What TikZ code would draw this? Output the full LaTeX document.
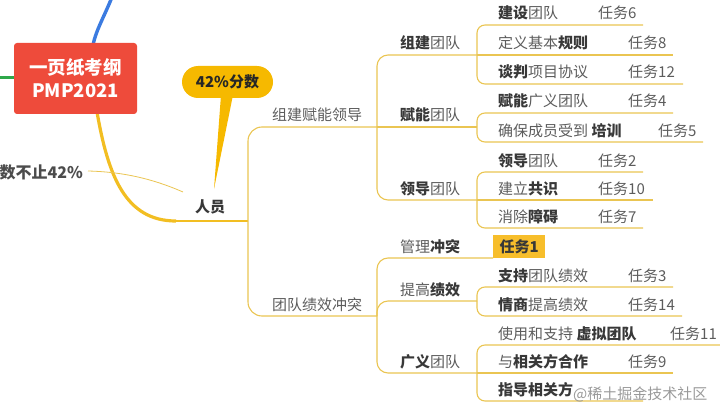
\documentclass[tikz,border=0pt]{standalone}
\usepackage{fontspec}
\setmainfont{Noto Sans CJK SC}
\definecolor{lineY}{HTML}{EAC552}
\definecolor{thickY}{HTML}{F2BE22}
\definecolor{pillY}{HTML}{F6B900}
\definecolor{boxY}{HTML}{F7BE2B}
\definecolor{redB}{HTML}{EE4B3B}
\definecolor{blueL}{HTML}{3B7BE0}
\definecolor{greenL}{HTML}{2EA84A}
\definecolor{txtR}{HTML}{5C5C5C}
\definecolor{txtB}{HTML}{383838}
\newcommand\mmb[1]{{\bfseries\color{txtB}#1}}
\begin{document}
\begin{tikzpicture}[x=1pt,y=-1pt,
  ln/.style={draw=lineY,line width=1.1pt},
  brA/.style={ln,rounded corners=14pt},
  brB/.style={ln,rounded corners=11pt},
  brC/.style={ln,rounded corners=8pt},
  t/.style={inner sep=0pt,anchor=base west,font=\fontsize{15}{17}\selectfont,text=txtR},
]
\useasboundingbox (0,0) rectangle (720,417);

% left decorations
\draw[blueL,line width=3.4pt] (112,-3) .. controls (105,15) and (96,30) .. (93,45);
\draw[greenL,line width=3pt] (-3,78) -- (16,78);
\draw[thickY,line width=3.2pt] (97,112) .. controls (108,175) and (125,221) .. (176,221);
\draw[ln,line width=1.6pt,draw=thickY] (174,221) -- (248,221);

% central box
\node[fill=redB,rounded corners=3pt,minimum width=123pt,minimum height=71pt,inner sep=0pt,
  text=white,font=\bfseries\fontsize{18.5}{23}\selectfont,align=center] (root) at (75.5,78.5)
  {一页纸考纲\\PMP2021};

% 人员 and side notes
\node[inner sep=1pt,font=\bfseries\fontsize{15}{17}\selectfont,text=txtB] (ry) at (210,207) {人员};
\node[inner sep=0pt,anchor=east,font=\bfseries\fontsize{16}{18}\selectfont,text=txtB!90] (note) at (83,172) {数不止42\%};
\draw[ln,line width=0.8pt] (note.east) ++(5,-1) coordinate (ne) .. controls (130,172) and (160,182) .. (183,192) coordinate (nr);

% callout
\fill[pillY] (221,95) -- (233,95) -- (214,189) -- cycle;
\node[fill=pillY,rounded corners=16pt,minimum width=91pt,minimum height=32pt,inner sep=0pt,
  font=\bfseries\fontsize{15}{17}\selectfont,text=black!85] (pill) at (227.5,82) {42\%分数};

% trunk
\coordinate (J0) at (248,221);
\coordinate (J1) at (377,127);
\coordinate (J2) at (377,316);
\draw[brA] (J0) |- (J1);
\draw[brA] (J0) |- (J2);
\node[t] (l1a) at (272,121) {组建赋能领导};
\node[t] (l1b) at (272,310) {团队绩效冲突};

% second level (upper)
\coordinate (A) at (477,55);
\coordinate (B) at (477,127);
\coordinate (C) at (477,200);
\draw[brB] (J1) |- (A);
\draw[ln] (J1) -- (B);
\draw[brB] (J1) |- (C);
\node[t] (l2a) at (400,49) {\mmb{组建}团队};
\node[t] (l2b) at (400,121) {\mmb{赋能}团队};
\node[t] (l2c) at (400,194) {\mmb{领导}团队};

% second level (lower)
\coordinate (D) at (493,258);
\coordinate (E) at (477,301);
\coordinate (F) at (477,373);
\draw[brB] (J2) |- (D);
\draw[brB] (J2) |- (E);
\draw[brB] (J2) |- (F);
\node[t] (l2d) at (400,252) {管理\mmb{冲突}};
\node[t] (l2e) at (400,295) {提高\mmb{绩效}};
\node[t] (l2f) at (400,367) {\mmb{广义}团队};
\node[fill=boxY,minimum width=52pt,minimum height=23pt,inner sep=0pt,anchor=south west,
  font=\bfseries\fontsize{15}{17}\selectfont,text=txtB] (task1) at (D) {任务1};

% group A
\draw[brC] (A) |- (643,25);
\draw[ln] (A) -- (673,55);
\draw[brC] (A) |- (683,84);
\node[t] (i1) at (498,19) {\mmb{建设}团队};  \node[t] (k1) at (598,19) {任务6};
\node[t] (i2) at (498,49) {定义基本\mmb{规则}};  \node[t] (k2) at (628,49) {任务8};
\node[t] (i3) at (498,78) {\mmb{谈判}项目协议};  \node[t] (k3) at (628,78) {任务12};

% group B
\draw[brC] (B) |- (673,113);
\draw[brC] (B) |- (703,142);
\node[t] (i4) at (498,107) {\mmb{赋能}广义团队};  \node[t] (k4) at (628,107) {任务4};
\node[t] (i5) at (498,136) {确保成员受到 \mmb{培训}};  \node[t] (k5) at (658,136) {任务5};

% group C
\draw[brC] (C) |- (643,172);
\draw[ln] (C) -- (653,200);
\draw[brC] (C) |- (643,228);
\node[t] (i6) at (498,166) {\mmb{领导}团队};  \node[t] (k6) at (598,166) {任务2};
\node[t] (i7) at (498,194) {建立\mmb{共识}};  \node[t] (k7) at (598,194) {任务10};
\node[t] (i8) at (498,222) {消除\mmb{障碍}};  \node[t] (k8) at (598,222) {任务7};

% group E
\draw[brC] (E) |- (673,287);
\draw[brC] (E) |- (682,316);
\node[t] (i9) at (498,281) {\mmb{支持}团队绩效};  \node[t] (k9) at (628,281) {任务3};
\node[t] (i10) at (498,310) {\mmb{情商}提高绩效};  \node[t] (k10) at (628,310) {任务14};

% group F
\draw[brC] (F) |- (722,345);
\draw[ln] (F) -- (673,373);
\draw[brC] (F) |- (643,401);
\node[t] (i11) at (498,339) {使用和支持 \mmb{虚拟团队}};  \node[t] (k11) at (670,339) {任务11};
\node[t] (i12) at (498,367) {与\mmb{相关方合作}};  \node[t] (k12) at (628,367) {任务9};
\node[t] (i13) at (498,395) {\mmb{指导相关方}};

% watermark
\node[inner sep=0pt,anchor=west,font=\fontsize{15}{17}\selectfont,text=black!40] (wm) at (573,394) {@稀土掘金技术社区};
\end{tikzpicture}
\end{document}
